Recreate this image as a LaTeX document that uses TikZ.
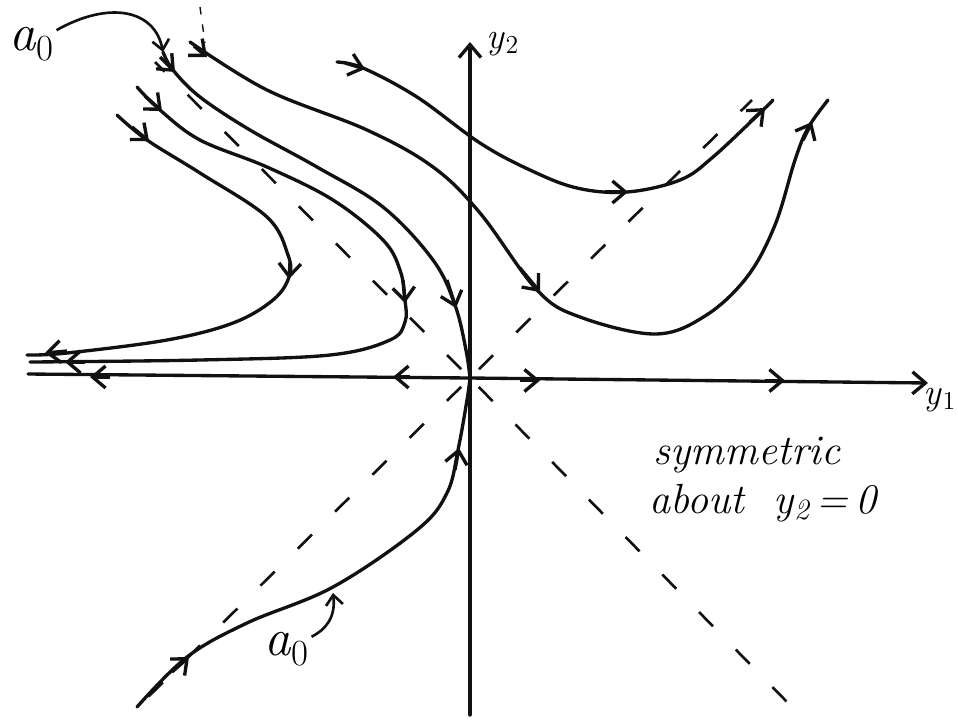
\documentclass[tikz,border=0pt]{standalone}
\usepackage{fontspec}
\usepackage{tikz}
\usetikzlibrary{arrows.meta}
\definecolor{Ink}{HTML}{111111}
\newcommand{\subvar}[2]{\textit{#1}\textsubscript{#2}}
\tikzset{
  flowtip/.tip={Straight Barb[length=2.6mm,width=4.4mm]},
  orbit/.style={draw=Ink, line width=1.9pt, line cap=round, line join=round},
  flowmark/.style={draw=Ink, line width=1.9pt, -flowtip},
  eigenline/.style={draw=Ink, line width=1.5pt, dash pattern=on 4mm off 6.5mm, dash phase=8mm},
  pointer/.style={draw=Ink, line width=1.5pt, -{Straight Barb[length=2mm,width=3.4mm]}},
  axislabel/.style={font=\fontsize{21}{25}\selectfont, inner sep=1pt},
  curvelabel/.style={font=\fontsize{30}{34}\selectfont, inner sep=1pt},
  notetext/.style={font=\fontsize{24}{28}\selectfont\itshape, inner sep=1pt}
}
\begin{document}
\begin{tikzpicture}[x=0.02cm,y=-0.02cm]
  \useasboundingbox (0,0) rectangle (958,725);
  % axes
  \coordinate (o) at (470,378);
  \coordinate (west) at (28,374);
  \coordinate (east) at (928,383);
  \coordinate (south) at (470,715);
  \coordinate (north) at (470,42);
  \draw[orbit] (o) -- (west);
  \draw[orbit,-flowtip] (o) -- (east);
  \draw[orbit,-flowtip] (south) -- (north);
  \node[axislabel] (ytwo) at (503,44) {\subvar{y}{2}};
  \node[axislabel] (yone) at (940,400) {\subvar{y}{1}};
  % dashed directions
  \draw[eigenline] (o) -- (155,62);
  \draw[eigenline] (o) -- (790,705);
  \draw[eigenline] (o) -- (140,705);
  \draw[eigenline] (o) -- (752,100);
  \draw[Ink,line width=0.8pt,dash pattern=on 1.5mm off 2mm] (200,7) -- (205,43);
  % stable curve a_0
  \coordinate (bzero) at (163,52);
  \draw[orbit] plot[smooth,tension=0.6] coordinates
    {(bzero) (173,70) (200,97) (250,130) (317,167) (383,207) (433,260) (455,305) (466,350) (o)};
  \draw[orbit] plot[smooth,tension=0.6] coordinates
    {(137,707) (187,657) (247,623) (333,587) (417,530) (447,493) (458,450) (467,400) (o)};
  % orbits above
  \draw[orbit] plot[smooth,tension=0.6] coordinates
    {(190,42) (267,90) (367,130) (433,167) (480,213) (537,290) (580,317) (655,334)
     (705,316) (747,277) (775,225) (795,160) (808,128) (828,100)};
  \draw[orbit] plot[smooth,tension=0.6] coordinates
    {(337,62) (363,68) (417,97) (480,143) (530,170) (577,188) (627,192) (680,180)
     (713,157) (763,110) (773,100)};
  \draw[orbit] plot[smooth,tension=0.6] coordinates
    {(137,87) (160,110) (200,140) (267,167) (333,200) (383,240) (400,270) (405,300)
     (405,322) (390,340) (330,355) (200,360) (30,362)};
  \draw[orbit] plot[smooth,tension=0.6] coordinates
    {(117,115) (147,140) (200,173) (267,217) (288,255) (289,277) (273,300) (233,323)
     (167,340) (67,353) (27,355)};
  % direction marks
  \foreach \from/\to in {410/393, 110/90}
    \draw[flowmark] (\from,377) -- (\to,377);
  \foreach \from/\to in {520/540, 765/785}
    \draw[flowmark] (\from,380.5) -- (\to,380.5);
  \foreach \ax/\ay/\bx/\by in {160/57/175/72, 447/280/456/308, 172/672/189/657,
      455/470/459/448, 194/46/207/57, 520/268/540/292, 803/140/812/122,
      345/63/365/69, 605/192/628/192, 750/122/765/108, 145/96/162/111,
      403/280/405/303, 85/362/65/362, 132/127/149/141, 290/262/289/279,
      67/351/45/353}
    \draw[flowmark] (\ax,\ay) -- (\bx,\by);
  % labels
  \node[curvelabel] (aupper) at (32,44) {\subvar{a}{0}};
  \draw[pointer] (aupper) .. controls (110,0) and (155,10) .. (bzero);
  \node[curvelabel] (alower) at (287,649) {\subvar{a}{0}};
  \coordinate (mzero) at (333,593);
  \draw[pointer] (alower) .. controls (325,630) and (336,618) .. (mzero);
  \node[notetext] (symm) at (747,455) {symmetric};
  \node[notetext] (about) at (763,503) {about \ \subvar{y}{2}\,=\,0};
\end{tikzpicture}
\end{document}
